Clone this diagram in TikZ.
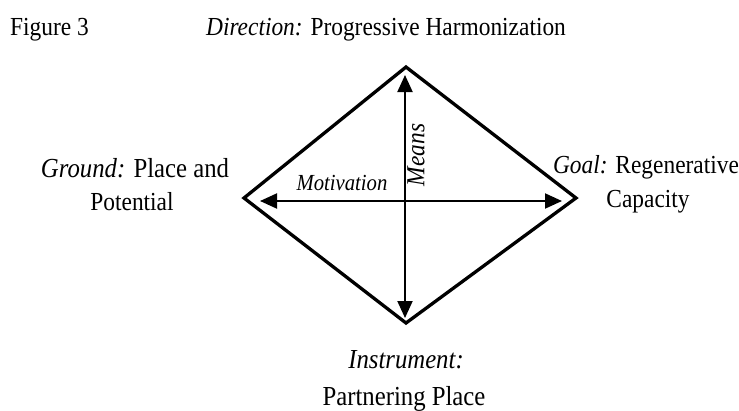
\documentclass[tikz,border=0pt]{standalone}
\usepackage{fontspec}
\setmainfont{Liberation Serif}[FakeStretch=0.9]
\usetikzlibrary{arrows.meta}
\begin{document}
\begin{tikzpicture}[x=1pt,y=-1pt,
  lbl/.style={inner sep=0pt,anchor=base,font=\fontsize{26}{30}\selectfont},
  big/.style={inner sep=0pt,anchor=base,font=\fontsize{27.5}{31}\selectfont},
  small/.style={inner sep=0pt,anchor=base,font=\fontsize{23}{27}\selectfont\itshape},
  edge/.style={line width=3.3pt,line join=miter},
  axis/.style={line width=2pt,{Triangle[length=17pt,width=15pt]}-{Triangle[length=17pt,width=15pt]}}]
\useasboundingbox (0,0) rectangle (739,410);
\fill[white] (0,0) rectangle (739,410);
% diamond corners
\coordinate (T) at (406,67);
\coordinate (R) at (576,198);
\coordinate (B) at (406,323);
\coordinate (L) at (244,198);
\draw[edge] (T) -- (R) -- (B) -- (L) -- cycle;
% arrow ends
\coordinate (at) at (405,75);
\coordinate (ab) at (405,318);
\coordinate (al) at (260,201);
\coordinate (ar) at (562,201);
\draw[axis] (al) -- (ar);
\draw[axis] (ab) -- (at);
% labels
\node[lbl,anchor=base west] (fig) at (10,35) {Figure 3};
\node[lbl] (dir) at (386,35) {\textit{Direction:} Progressive Harmonization};
\node[big] (g1) at (135,177) {\textit{Ground:} Place and};
\node[lbl] (g2) at (132,210) {Potential};
\node[lbl] (o1) at (646,173) {\textit{Goal:} Regenerative};
\node[lbl] (o2) at (648,207) {Capacity};
\node[big] (i1) at (406,368) {\textit{Instrument:}};
\node[big] (i2) at (404,405) {Partnering Place};
\node[small] (mot) at (342,190) {Motivation};
\node[small,anchor=center,rotate=90,font=\fontsize{26}{30}\selectfont\itshape] (mea) at (416,155) {Means};
\end{tikzpicture}
\end{document}
